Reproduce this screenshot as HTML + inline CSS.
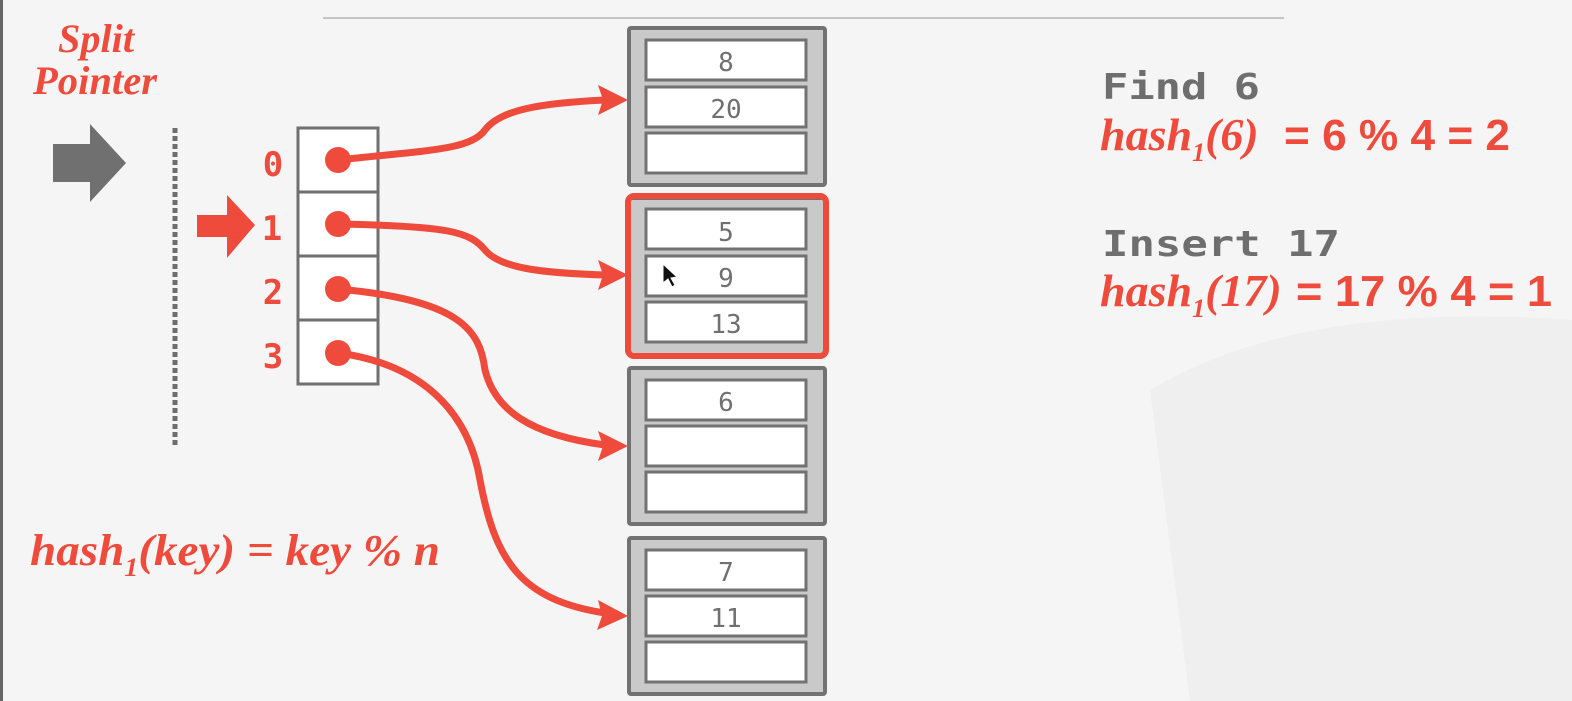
<!DOCTYPE html>
<html><head><meta charset="utf-8"><style>
html,body{margin:0;padding:0;width:1572px;height:701px;overflow:hidden;background:#f5f5f5}
</style></head><body>
<svg width="1572" height="701" viewBox="0 0 1572 701" xmlns="http://www.w3.org/2000/svg">
<rect x="0" y="0" width="1572" height="701" fill="#f5f5f5"/>
<rect x="0" y="0" width="3" height="701" fill="#666"/>
<g fill="#ececec">
<path d="M1150 390 Q1300 300 1572 320 L1572 701 L1190 701 Z" opacity="0.7"/>
</g>
<line x1="323" y1="18" x2="1284" y2="18" stroke="#c4c4c4" stroke-width="2"/>
<g font-family="Liberation Serif, serif" font-style="italic" font-weight="bold" fill="#ee4b3c" text-anchor="middle">
<text x="96" y="52" font-size="40" textLength="76" lengthAdjust="spacingAndGlyphs">Split</text>
<text x="95" y="94" font-size="40" textLength="124" lengthAdjust="spacingAndGlyphs">Pointer</text>
</g>
<polygon points="53,144 90,144 90,124 126,163 90,202 90,182 53,182" fill="#707070"/>
<line x1="175" y1="128" x2="175" y2="448" stroke="#6e6e6e" stroke-width="5" stroke-dasharray="5,3"/>
<polygon points="197,215 227,215 227,195 255,225 227,258 227,237 197,237" fill="#ee4b3c"/>
<g fill="#fff" stroke="#707070" stroke-width="3">
<rect x="298" y="128" width="80" height="64"/>
<rect x="298" y="192" width="80" height="64"/>
<rect x="298" y="256" width="80" height="64"/>
<rect x="298" y="320" width="80" height="64"/>
</g>
<g font-family="DejaVu Sans Mono, monospace" font-weight="bold" font-size="34" fill="#ee4b3c" text-anchor="middle">
<text x="273" y="176">0</text><text x="272" y="240">1</text><text x="273" y="304">2</text><text x="273" y="368">3</text>
</g>
<g stroke="#727272" stroke-width="4" fill="#c9c9c9">
<rect x="629" y="28" width="196" height="157" rx="2"/>
<rect x="629" y="198" width="196" height="157" rx="2"/>
<rect x="629" y="368" width="196" height="156" rx="2"/>
<rect x="629" y="538" width="196" height="156" rx="2"/>
</g>
<rect x="628" y="196" width="198" height="160" rx="6" fill="none" stroke="#ee4b3c" stroke-width="6"/>
<g fill="#fff" stroke="#727272" stroke-width="3">
<rect x="646" y="40" width="160" height="40"/><rect x="646" y="87" width="160" height="40"/><rect x="646" y="133" width="160" height="40"/>
<rect x="646" y="209" width="160" height="40"/><rect x="646" y="256" width="160" height="40"/><rect x="646" y="302" width="160" height="40"/>
<rect x="646" y="380" width="160" height="40"/><rect x="646" y="426" width="160" height="40"/><rect x="646" y="472" width="160" height="40"/>
<rect x="646" y="550" width="160" height="40"/><rect x="646" y="596" width="160" height="40"/><rect x="646" y="642" width="160" height="40"/>
</g>
<g font-family="DejaVu Sans Mono, Liberation Mono, monospace" font-size="26" fill="#707070" text-anchor="middle">
<text x="726" y="71">8</text><text x="726" y="118">20</text>
<text x="726" y="241">5</text><text x="726" y="287">9</text><text x="726" y="333">13</text>
<text x="726" y="411">6</text>
<text x="726" y="581">7</text><text x="726" y="627">11</text>
</g>
<polygon points="663,264 663,283 668,279 672,287 675,285 671,278 677,277" fill="#111" stroke="#fff" stroke-width="1"/>
<g stroke="#ee4b3c" stroke-width="7" fill="none">
<path d="M338 160 C430 150 470 150 485 130 C500 110 540 103 605 100"/>
<path d="M338 224 C450 226 470 232 485 250 C500 268 540 273 605 275"/>
<path d="M338 289 C460 300 480 330 485 370 C495 410 530 435 605 445"/>
<path d="M338 353 C430 365 470 420 480 480 C495 560 520 600 605 613"/>
</g>
<g fill="#ee4b3c">
<circle cx="338" cy="160" r="13"/><circle cx="338" cy="224" r="13"/><circle cx="338" cy="289" r="13"/><circle cx="338" cy="353" r="13"/>
<polygon points="628,100 598,85 603,100 598,115"/>
<polygon points="628,275 598,260 603,275 598,290"/>
<polygon points="628,446 598,431 603,446 598,461"/>
<polygon points="628,616 598,600 602,616 597,630"/>
</g>
<g font-family="DejaVu Sans Mono, Liberation Mono, monospace" font-weight="bold" font-size="36" fill="#6e6e6e">
<text x="1102" y="99" textLength="158" lengthAdjust="spacingAndGlyphs">Find 6</text>
<text x="1102" y="256" textLength="238" lengthAdjust="spacingAndGlyphs">Insert 17</text>
</g>
<g font-family="Liberation Serif, serif" font-style="italic" font-weight="bold" font-size="46" fill="#ee4b3c">
<text x="1100" y="150">hash<tspan font-size="26" dy="11">1</tspan><tspan dy="-11">(6)</tspan></text>
<text x="1100" y="306">hash<tspan font-size="26" dy="11">1</tspan><tspan dy="-11">(17)</tspan></text>
<text x="30" y="565" font-size="44" textLength="410" lengthAdjust="spacingAndGlyphs">hash<tspan font-size="26" dy="11">1</tspan><tspan dy="-11">(key) = key % n</tspan></text>
</g>
<g font-family="Liberation Sans, sans-serif" font-weight="bold" font-size="44" fill="#ee4b3c">
<text x="1284" y="150" textLength="226" lengthAdjust="spacingAndGlyphs">= 6 % 4 = 2</text>
<text x="1296" y="306" textLength="256" lengthAdjust="spacingAndGlyphs">= 17 % 4 = 1</text>
</g>
</svg>
</body></html>
